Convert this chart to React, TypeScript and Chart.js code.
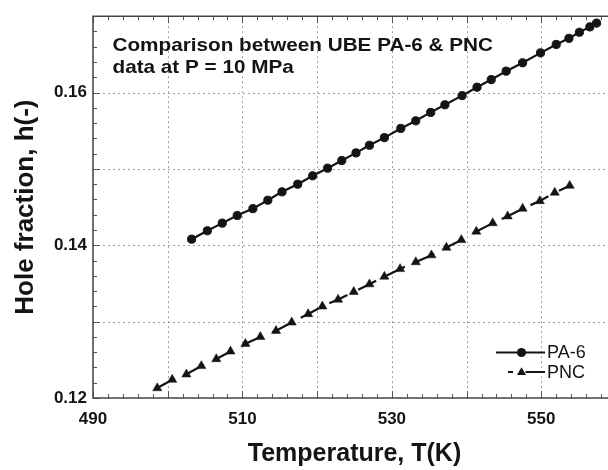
import React, { useEffect, useRef } from "react";
import { Chart, registerables } from "chart.js";

Chart.register(...registerables);

const FONT = "'Liberation Sans', Arial, Helvetica, sans-serif";

// ---- data ----
const pa6Temperature = [
  503.2, 505.3, 507.3, 509.3, 511.4, 513.4, 515.3, 517.4, 519.4, 521.4,
  523.3, 525.2, 527.0, 529.0, 531.2, 533.2, 535.2, 537.1, 539.4, 541.4,
  543.3, 545.3, 547.5, 549.9, 552.0, 553.7, 555.1, 556.5, 557.4,
];
const pa6HoleFraction = [
  0.1408, 0.1419, 0.1429, 0.1439, 0.1448, 0.1459, 0.147, 0.148, 0.1491, 0.1501,
  0.1511, 0.1521, 0.1531, 0.1541, 0.1553, 0.1563, 0.1574, 0.1584, 0.1596, 0.1607,
  0.1617, 0.1628, 0.1639, 0.1652, 0.1663, 0.1671, 0.1679, 0.1686, 0.1691,
];
const pncTemperature = [
  498.6, 500.6, 502.5, 504.5, 506.5, 508.4, 510.4, 512.4, 514.5, 516.6,
  518.8, 520.7, 522.8, 524.9, 527.0, 529.0, 531.1, 533.2, 535.3, 537.3,
  539.3, 541.3, 543.5, 545.5, 547.5, 549.8, 551.8, 553.8,
];
const pncHoleFraction = [
  0.1213, 0.1224, 0.1231, 0.1242, 0.1251, 0.1261, 0.1271, 0.128, 0.1288, 0.1299,
  0.131, 0.132, 0.1329, 0.1339, 0.1349, 0.1359, 0.1369, 0.1378, 0.1387, 0.1397,
  0.1407, 0.1418, 0.1429, 0.1438, 0.1448, 0.1458, 0.1469, 0.1478,
];
const seriesNames = ["PA-6", "PNC"];
const xTickLabels = [490, 510, 530, 550];
const yTickLabels = [0.12, 0.14, 0.16];
const xGridValues = [500, 510, 520, 530, 540, 550];
const yGridValues = [0.13, 0.14, 0.15, 0.16];
const xRange = [490, 560];
const yRange = [0.12, 0.17];
const titleLines = ["Comparison between UBE PA-6 & PNC", "data at P = 10 MPa"];
const xAxisTitle = "Temperature, T(K)";
const yAxisTitle = "Hole fraction, h(-)";

const INK = "#141414";
const PNC_DASH = [20, 12];

function drawTriangle(ctx: CanvasRenderingContext2D, x: number, y: number, r: number) {
  let rad = 0;
  ctx.beginPath();
  ctx.moveTo(x + Math.sin(rad) * r, y - Math.cos(rad) * r);
  rad += (2 * Math.PI) / 3;
  ctx.lineTo(x + Math.sin(rad) * r, y - Math.cos(rad) * r);
  rad += (2 * Math.PI) / 3;
  ctx.lineTo(x + Math.sin(rad) * r, y - Math.cos(rad) * r);
  ctx.closePath();
  ctx.fill();
}

const framePlugin = {
  id: "frame",
  beforeDatasetsDraw(chart: any) {
    const { ctx, chartArea: a } = chart;
    const xs = chart.scales.x;
    const ys = chart.scales.y;
    ctx.save();
    // dotted grid
    ctx.strokeStyle = "#a0a0a0";
    ctx.lineWidth = 1;
    ctx.setLineDash([2, 3]);
    xGridValues.forEach((v) => {
      const px = Math.round(xs.getPixelForValue(v)) + 0.5;
      ctx.beginPath();
      ctx.moveTo(px, a.top);
      ctx.lineTo(px, a.bottom);
      ctx.stroke();
    });
    yGridValues.forEach((v) => {
      const py = Math.round(ys.getPixelForValue(v)) + 0.5;
      ctx.beginPath();
      ctx.moveTo(a.left, py);
      ctx.lineTo(a.right, py);
      ctx.stroke();
    });
    // minor ticks
    ctx.setLineDash([]);
    ctx.strokeStyle = "#555";
    ctx.lineWidth = 1;
    for (let v = xRange[0]; v <= xRange[1]; v += 2) {
      const px = Math.round(xs.getPixelForValue(v)) + 0.5;
      const len = v % 10 === 0 ? 7 : 4;
      ctx.beginPath();
      ctx.moveTo(px, a.bottom);
      ctx.lineTo(px, a.bottom - len);
      ctx.moveTo(px, a.top);
      ctx.lineTo(px, a.top + len);
      ctx.stroke();
    }
    for (let k = 0; k <= 25; k++) {
      const v = yRange[0] + k * 0.002;
      const py = Math.round(ys.getPixelForValue(v)) + 0.5;
      const len = k % 5 === 0 ? 7 : 4;
      ctx.beginPath();
      ctx.moveTo(a.left, py);
      ctx.lineTo(a.left + len, py);
      ctx.stroke();
    }
    // frame
    ctx.strokeStyle = "#444";
    ctx.lineWidth = 1.5;
    ctx.beginPath();
    ctx.moveTo(a.right, a.top);
    ctx.lineTo(a.left, a.top);
    ctx.lineTo(a.left, a.bottom);
    ctx.lineTo(a.right, a.bottom);
    ctx.stroke();
    ctx.restore();
  },
  afterDatasetsDraw(chart: any) {
    const { ctx, chartArea: a } = chart;
    ctx.save();
    // title inside the plot
    ctx.fillStyle = INK;
    ctx.font = `bold 19px ${FONT}`;
    ctx.textBaseline = "alphabetic";
    ctx.textAlign = "left";
    titleLines.forEach((line, i) => {
      ctx.save();
      ctx.translate(a.left + 19.5, a.top + 34.5 + i * 22);
      ctx.scale(1.09, 1);
      ctx.fillText(line, 0, 0);
      ctx.restore();
    });
    // legend
    const lx0 = a.left + 403;
    const lx1 = a.left + 452;
    const mx = a.left + 428.5;
    const rows = [a.top + 336.3, a.top + 355.7];
    ctx.strokeStyle = INK;
    ctx.fillStyle = INK;
    ctx.lineWidth = 2;
    // PA-6
    ctx.beginPath();
    ctx.moveTo(lx0, rows[0]);
    ctx.lineTo(lx1, rows[0]);
    ctx.stroke();
    ctx.beginPath();
    ctx.arc(mx, rows[0], 4.6, 0, Math.PI * 2);
    ctx.fill();
    // PNC
    ctx.beginPath();
    ctx.moveTo(lx0 + 12, rows[1]);
    ctx.lineTo(lx0 + 17, rows[1]);
    ctx.moveTo(mx + 4, rows[1]);
    ctx.lineTo(lx1, rows[1]);
    ctx.stroke();
    drawTriangle(ctx, mx, rows[1] + 0.5, 5.2);
    ctx.font = `18px ${FONT}`;
    ctx.textBaseline = "middle";
    ctx.fillText(seriesNames[0], lx1 + 2, rows[0] + 1);
    ctx.fillText(seriesNames[1], lx1 + 2, rows[1] + 1);
    ctx.restore();
  },
};

export default function App() {
  const canvasRef = useRef<HTMLCanvasElement | null>(null);

  useEffect(() => {
    const canvas = canvasRef.current;
    if (!canvas) return;
    const chart = new Chart(canvas, {
      type: "scatter",
      data: {
        datasets: [
          {
            label: seriesNames[0],
            data: pa6Temperature.map((t, i) => ({ x: t, y: pa6HoleFraction[i] })),
            showLine: true,
            borderColor: INK,
            borderWidth: 2.2,
            pointStyle: "circle",
            pointRadius: 4.1,
            pointBorderWidth: 1,
            pointBackgroundColor: INK,
            pointBorderColor: INK,
          },
          {
            label: seriesNames[1],
            data: pncTemperature.map((t, i) => ({ x: t, y: pncHoleFraction[i] })),
            showLine: true,
            borderColor: INK,
            borderWidth: 2.2,
            borderDash: PNC_DASH,
            pointStyle: "triangle",
            pointRadius: 5.3,
            pointBorderWidth: 0.5,
            pointBackgroundColor: INK,
            pointBorderColor: INK,
          },
        ],
      },
      options: {
        animation: false,
        responsive: false,
        maintainAspectRatio: false,
        layout: { padding: { top: 16, right: 14, left: 0, bottom: 0 } },
        plugins: {
          legend: { display: false },
          tooltip: { enabled: false },
          title: { display: false },
        },
        scales: {
          x: {
            type: "linear",
            min: xRange[0],
            max: xRange[1],
            afterFit: (s: any) => {
              s.height = 72;
            },
            grid: { display: false, drawTicks: false },
            border: { display: false },
            ticks: {
              stepSize: 10,
              autoSkip: false,
              maxRotation: 0,
              padding: 11,
              color: INK,
              font: { family: FONT, size: 17, weight: "bold" },
              callback: (v: any) => (xTickLabels.includes(Math.round(v)) ? String(Math.round(v)) : ""),
            },
            title: {
              display: true,
              text: xAxisTitle,
              color: INK,
              font: { family: FONT, size: 25, weight: "bold", lineHeight: 1.2 },
              padding: { top: 0, bottom: 1 },
            },
          },
          y: {
            type: "linear",
            min: yRange[0],
            max: yRange[1],
            afterFit: (s: any) => {
              s.width = 93;
            },
            grid: { display: false, drawTicks: false },
            border: { display: false },
            ticks: {
              stepSize: 0.01,
              autoSkip: false,
              padding: 6,
              color: INK,
              font: { family: FONT, size: 17, weight: "bold" },
              callback: (v: any) =>
                yTickLabels.some((t) => Math.abs(t - v) < 1e-6) ? Number(v).toFixed(2) : "",
            },
            title: {
              display: true,
              text: yAxisTitle,
              color: INK,
              font: { family: FONT, size: 26, weight: "bold", lineHeight: 1.2 },
              padding: { top: 10, bottom: 0 },
            },
          },
        },
      },
      plugins: [framePlugin],
    });
    return () => chart.destroy();
  }, []);

  return (
    <div
      style={{
        position: "fixed",
        left: 0,
        top: 0,
        width: 608,
        height: 470,
        overflow: "hidden",
        background: "#fff",
      }}
    >
      <canvas ref={canvasRef} width={630} height={470} style={{ width: 630, height: 470, display: "block" }} />
    </div>
  );
}
